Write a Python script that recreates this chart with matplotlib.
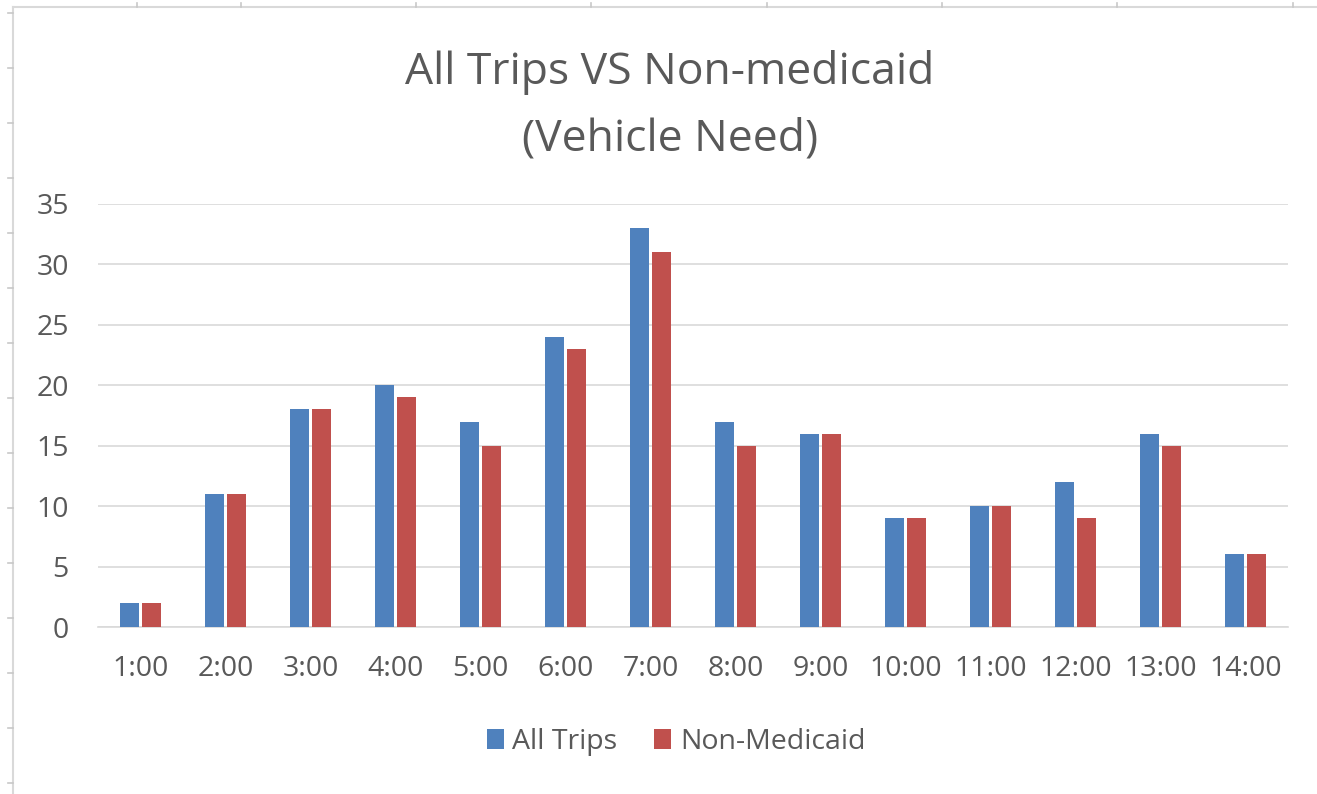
import numpy as np
import matplotlib.pyplot as plt
from matplotlib.lines import Line2D

hours = ['1:00', '2:00', '3:00', '4:00', '5:00', '6:00', '7:00',
         '8:00', '9:00', '10:00', '11:00', '12:00', '13:00', '14:00']
all_trips = [2, 11, 18, 20, 17, 24, 33, 17, 16, 9, 10, 12, 16, 6]
non_medicaid = [2, 11, 18, 19, 15, 23, 31, 15, 16, 9, 10, 9, 15, 6]

plt.rcParams['font.family'] = ['Open Sans', 'DejaVu Sans']
txt = '#595959'
W, H = 1317, 794

fig = plt.figure(figsize=(13.17, 7.94), dpi=100)
ax = fig.add_axes([98 / W, 1 - 627 / H, 1190 / W, 423 / H])

x = np.arange(len(hours))
w = 0.22
ax.bar(x - 0.13, all_trips, w, color='#4F81BD', label='All Trips', zorder=3)
ax.bar(x + 0.13, non_medicaid, w, color='#C0504D', label='Non-Medicaid', zorder=3)

ax.set_xlim(-0.5, len(hours) - 0.5)
ax.set_ylim(0, 35)
ax.set_yticks(range(0, 36, 5))
ax.set_xticks(x)
ax.set_xticklabels(hours)
ax.grid(axis='y', color='#D9D9D9', linewidth=1.2, zorder=0)
for s in ['top', 'right', 'left']:
    ax.spines[s].set_visible(False)
ax.spines['bottom'].set_color('#D9D9D9')
ax.spines['bottom'].set_linewidth(1.2)
ax.tick_params(axis='both', length=0, labelsize=20.5, colors=txt)
ax.tick_params(axis='x', pad=20)
ax.tick_params(axis='y', pad=21)

# title, two lines
fig.text(670 / W, 1 - 84 / H, 'All Trips VS Non-medicaid', ha='center',
         va='baseline', fontsize=32, color=txt)
fig.text(670 / W, 1 - 151 / H, '(Vehicle Need)', ha='center',
         va='baseline', fontsize=32, color=txt)

fig.legend(loc='center', bbox_to_anchor=(676 / W, 1 - 742 / H), ncol=2, frameon=False,
           fontsize=20.5, labelcolor=txt, handlelength=0.6, handleheight=0.7,
           handletextpad=0.3, columnspacing=1.3)

# sheet border lines with little cell marks
gc = '#D9D9D9'
fig.add_artist(Line2D([12.5 / W, 12.5 / W], [0, 1 - 6.5 / H], color=gc, lw=1.5))
fig.add_artist(Line2D([12.5 / W, 1], [1 - 6.5 / H, 1 - 6.5 / H], color=gc, lw=1.5))
for yy in range(13, H, 55):
    fig.add_artist(Line2D([8 / W, 12.5 / W], [1 - yy / H, 1 - yy / H], color='#C8C8C8', lw=1.2))
for xx in [137, 241, 416, 591, 767, 942, 1117, 1293]:
    fig.add_artist(Line2D([xx / W, xx / W], [1 - 6.5 / H, 1 - 3 / H], color='#C8C8C8', lw=1.2))

fig.savefig('out.png', dpi=100)
